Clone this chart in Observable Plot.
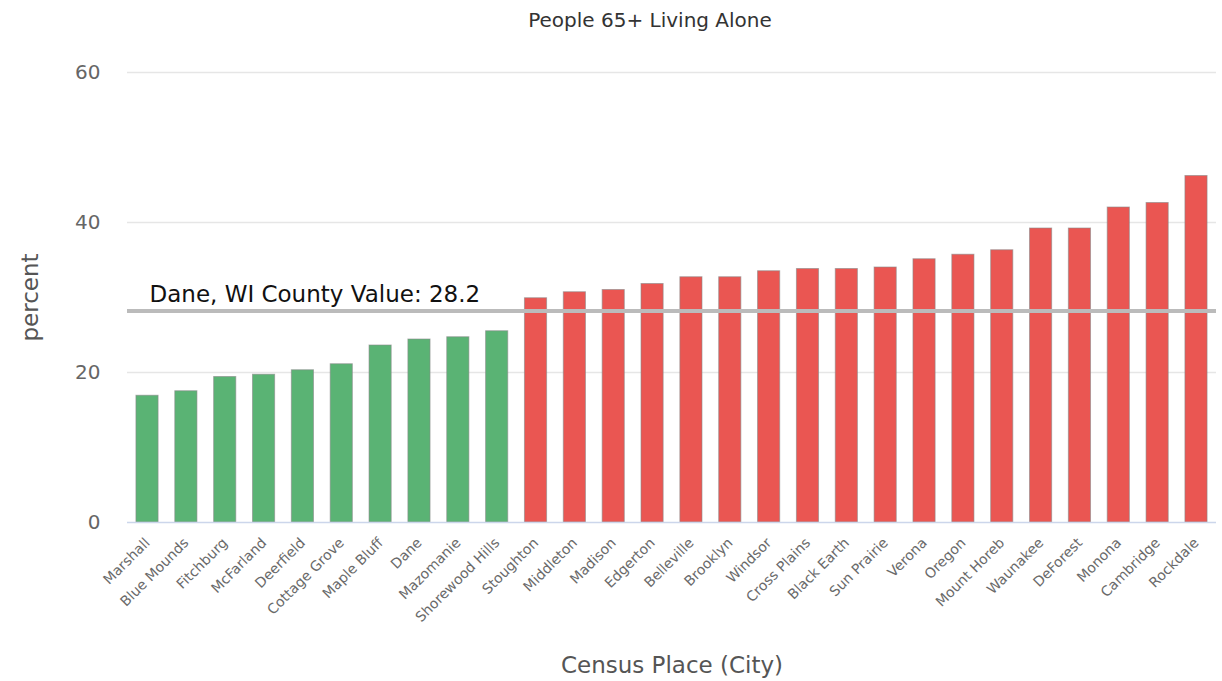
<!DOCTYPE html>
<html>
<head>
<meta charset="utf-8">
<script src="https://cdn.jsdelivr.net/npm/d3@7"></script>
<script src="https://cdn.jsdelivr.net/npm/@observablehq/plot@0.6"></script>
<style>
  html, body { margin: 0; padding: 0; background: #fff; }
  body { width: 1222px; height: 681px; overflow: hidden; font-family: "DejaVu Sans", sans-serif; }
  #title { height: 40px; line-height: 40px; text-align: center; font-size: 20px; color: #333; padding-left: 78px; box-sizing: border-box; }
</style>
</head>
<body>
<div id="title">People 65+ Living Alone</div>
<div id="chart"></div>
<script>
const cities = ["Marshall","Blue Mounds","Fitchburg","McFarland","Deerfield","Cottage Grove","Maple Bluff","Dane","Mazomanie","Shorewood Hills","Stoughton","Middleton","Madison","Edgerton","Belleville","Brooklyn","Windsor","Cross Plains","Black Earth","Sun Prairie","Verona","Oregon","Mount Horeb","Waunakee","DeForest","Monona","Cambridge","Rockdale"];
const values = [16.9,17.5,19.4,19.7,20.3,21.1,23.6,24.4,24.7,25.5,29.9,30.7,31.0,31.8,32.7,32.7,33.5,33.8,33.8,34.0,35.1,35.7,36.3,39.2,39.2,42.0,42.6,46.2];
const countyName = "Dane, WI";
const countyValue = 28.2;
const yTicks = [0, 20, 40, 60];
const xTitle = "Census Place (City)";
const yTitle = "percent";

const data = cities.map((c, i) => ({city: c, value: values[i], above: values[i] > countyValue}));

const chart = Plot.plot({
  width: 1222,
  height: 641,
  marginLeft: 127,
  marginRight: 6,
  marginTop: 32,
  marginBottom: 159,
  style: {fontFamily: "DejaVu Sans, sans-serif", background: "#fff", overflow: "visible"},
  x: {domain: cities, paddingInner: 0.43, paddingOuter: 0.23, round: false, label: null},
  y: {domain: [0, 60], label: null},
  marks: [
    Plot.ruleY(yTicks.slice(1), {stroke: "#e6e6e6", strokeWidth: 1.5}),
    Plot.barY(data, {
      x: "city", y: "value",
      fill: d => d.above ? "#ea5652" : "#5ab374",
      stroke: "#888", strokeWidth: 1, strokeOpacity: 0.6
    }),
    Plot.ruleY([0], {stroke: "#ccd6eb", strokeWidth: 1.5}),
    Plot.ruleY([countyValue], {stroke: "#bbbbbb", strokeWidth: 4}),
    Plot.text([`${countyName} County Value: ${countyValue}`], {
      frameAnchor: "left", y: [countyValue], dx: 22, dy: -16,
      textAnchor: "start", fontSize: 23, fill: "#111"
    }),
    Plot.axisX({tickRotate: -45, tickSize: 0, tickPadding: 18, fontSize: 14, fill: "#6a6a6a", label: null}),
    Plot.axisY(yTicks, {tickSize: 0, tickPadding: 27, fontSize: 20, fill: "#666", label: null}),
    Plot.text([xTitle], {frameAnchor: "bottom", dy: 150, fontSize: 23, fill: "#555", textAnchor: "middle"}),
    Plot.text([yTitle], {frameAnchor: "left", dx: -97, rotate: -90, fontSize: 23, fill: "#555", textAnchor: "middle"})
  ]
});
document.getElementById("chart").appendChild(chart);
</script>
</body>
</html>
